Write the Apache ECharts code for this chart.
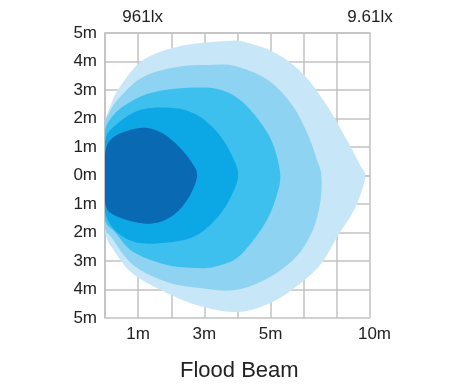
<!DOCTYPE html>
<html>
<head>
<meta charset="utf-8">
<script src="https://cdn.jsdelivr.net/npm/echarts@6/dist/echarts.min.js"></script>
<style>
html,body{margin:0;padding:0;background:#fff;}
#chart{width:460px;height:387px;}
</style>
</head>
<body>
<div id="chart"></div>
<script>
// ---- data ----
var xTickLabels = ['', '1m', '', '3m', '', '5m', '', '', '10m'];
var topTickLabels = ['', '961lx', '', '', '', '', '', '', '9.61lx'];
var yTickLabels = ['5m', '4m', '3m', '2m', '1m', '0m', '1m', '2m', '3m', '4m', '5m']; // from bottom (-5) to top (5)
var chartTitle = 'Flood Beam';

// iso-lux contours, [distance column, lateral offset] (outer -> inner)
var band5 = [[0.0,1.75],[0.15,2.40],[0.45,3.11],[1.15,4.05],[2.27,4.54],[3.69,4.72],[4.23,4.68],[5.14,4.30],[5.95,3.60],[6.65,2.54],[7.25,1.35],[7.70,0.37],[7.85,-0.09],[7.55,-1.14],[7.04,-2.09],[6.56,-3.04],[5.95,-3.74],[5.05,-4.44],[4.02,-4.79],[2.87,-4.58],[1.87,-4.12],[0.85,-3.46],[0.30,-2.68],[0.0,-1.95],[-0.08,-0.1]];
var band4 = [[-0.02,1.65],[0.15,2.25],[0.45,2.75],[1.15,3.46],[2.18,3.81],[3.17,3.88],[3.93,3.84],[4.92,3.35],[5.65,2.47],[6.13,1.42],[6.40,0.54],[6.53,0.02],[6.50,-0.93],[6.25,-1.98],[5.74,-2.89],[4.92,-3.60],[3.93,-4.02],[2.87,-3.95],[1.87,-3.74],[0.85,-3.14],[0.21,-2.19],[-0.02,-1.75],[-0.07,-0.1]];
var band3 = [[-0.02,1.45],[0.21,2.05],[0.66,2.51],[1.36,2.89],[2.36,3.07],[3.38,3.04],[4.08,2.65],[4.68,1.88],[5.08,1.07],[5.29,0.02],[5.17,-0.75],[4.92,-1.49],[4.53,-2.19],[3.99,-2.89],[3.38,-3.18],[2.87,-3.25],[1.87,-3.14],[0.85,-2.68],[0.30,-1.98],[-0.02,-1.5],[-0.06,-0.1]];
var band2 = [[0.0,1.2],[0.30,1.75],[1.06,2.30],[2.05,2.37],[2.78,2.12],[3.38,1.53],[3.78,0.82],[4.02,0.02],[3.78,-0.79],[3.38,-1.49],[2.78,-2.09],[2.05,-2.33],[1.06,-2.37],[0.39,-2.02],[0.0,-1.3],[-0.04,-0.1]];
var band1 = [[0.02,0.89],[0.30,1.38],[1.06,1.67],[1.66,1.53],[2.18,1.07],[2.57,0.54],[2.78,0.02],[2.57,-0.68],[2.18,-1.28],[1.66,-1.63],[1.06,-1.67],[0.30,-1.40],[0.02,-1.04],[0.0,-0.1]];

var bands = [band5, band4, band3, band2, band1];
var bandColors = ['#c7e7f8', '#8fd3f3', '#3ec0ef', '#0ba8e5', '#0a69b3'];

// closed Catmull-Rom outline through the pixel positions of the contour points
function smoothOutline(px) {
  var n = px.length, out = [], steps = 12;
  for (var i = 0; i < n; i++) {
    var p0 = px[(i - 1 + n) % n], p1 = px[i], p2 = px[(i + 1) % n], p3 = px[(i + 2) % n];
    for (var s = 0; s < steps; s++) {
      var t = s / steps, t2 = t * t, t3 = t2 * t;
      var f = function (a, b, c, d) {
        return 0.5 * ((2 * b) + (-a + c) * t + (2 * a - 5 * b + 4 * c - d) * t2 + (-a + 3 * b - 3 * c + d) * t3);
      };
      out.push([f(p0[0], p1[0], p2[0], p3[0]), f(p0[1], p1[1], p2[1], p3[1])]);
    }
  }
  return out;
}

var chart = echarts.init(document.getElementById('chart'));
var gridColor = '#c2c2c2';
var labelStyle = {color: '#222', fontSize: 17, fontFamily: 'Liberation Sans, Arial, sans-serif'};
var shiftRich = {s: {padding: [0, 0, 0, 9], color: '#222', fontSize: 17, fontFamily: 'Liberation Sans, Arial, sans-serif'}};

var series = bands.map(function (pts, i) {
  return {
    type: 'custom',
    coordinateSystem: 'cartesian2d',
    z: 2 + i,
    silent: true,
    data: pts,
    encode: {x: 0, y: 1},
    renderItem: function (params, api) {
      if (params.dataIndex !== 0) return null;
      var cs = params.coordSys;
      var px = pts.map(function (p) { return api.coord(p); });
      return {
        type: 'polygon',
        shape: {points: smoothOutline(px)},
        style: {fill: bandColors[i]},
        clipPath: {type: 'rect', shape: {x: cs.x, y: cs.y, width: cs.width, height: cs.height}}
      };
    }
  };
});

chart.setOption({
  animation: false,
  title: {
    text: chartTitle,
    left: 175,
    top: 355,
    textStyle: {color: '#222', fontSize: 22, fontWeight: 'normal', fontFamily: 'Liberation Sans, Arial, sans-serif'}
  },
  grid: {left: 105, top: 33, width: 265, height: 285, containLabel: false},
  xAxis: [{
    type: 'value', min: 0, max: 8, interval: 1, position: 'bottom',
    axisLine: {show: true, lineStyle: {color: gridColor, width: 1.5}},
    axisTick: {show: false},
    splitLine: {show: true, lineStyle: {color: gridColor, width: 1.5}},
    axisLabel: Object.assign({margin: 8, rich: shiftRich, formatter: function (v) {
      var t = xTickLabels[Math.round(v)] || '';
      return Math.round(v) === 8 ? '{s|' + t + '}' : t;
    }}, labelStyle)
  }, {
    type: 'value', min: 0, max: 8, interval: 1, position: 'top',
    axisLine: {show: true, lineStyle: {color: gridColor, width: 1.5}},
    axisTick: {show: false},
    splitLine: {show: false},
    axisLabel: Object.assign({margin: 7, rich: shiftRich, formatter: function (v) {
      var t = topTickLabels[Math.round(v)] || '';
      return Math.round(v) === 1 ? '{s|' + t + '}' : t;
    }}, labelStyle)
  }],
  yAxis: [{
    type: 'value', min: -5, max: 5, interval: 1,
    axisLine: {show: true, lineStyle: {color: gridColor, width: 1.5}},
    axisTick: {show: false},
    splitLine: {show: true, lineStyle: {color: gridColor, width: 1.5}},
    axisLabel: Object.assign({margin: 8, formatter: function (v) { return yTickLabels[Math.round(v) + 5]; }}, labelStyle)
  }],
  series: series
});
</script>
</body>
</html>
